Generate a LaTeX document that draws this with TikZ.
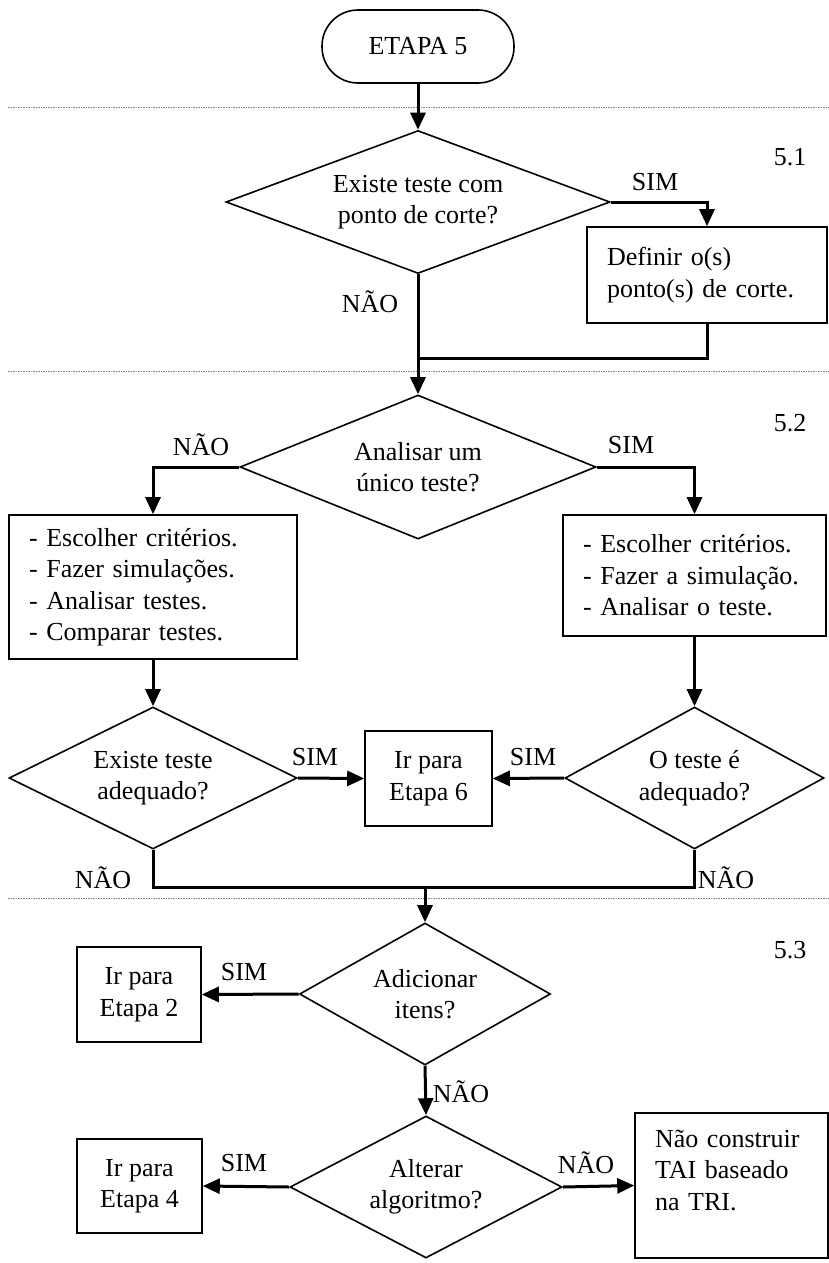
\documentclass[tikz,border=0pt]{standalone}
\usepackage{fontspec}
\setmainfont{Liberation Serif}
\usetikzlibrary{arrows.meta,shapes.geometric}

\begin{document}
\begin{tikzpicture}[x=1pt,y=-1pt,
  font=\fontsize{26}{31.5}\selectfont,
  terminal/.style={rectangle, rounded corners=36pt, draw, line width=1.6pt,
    minimum width=192pt, minimum height=73pt, inner sep=0pt},
  decision/.style={diamond, aspect=2.2, draw, line width=1.6pt, inner sep=0pt, align=center},
  process/.style={rectangle, draw, line width=1.6pt, inner ysep=0pt, inner xsep=20pt, align=left},
  goto/.style={rectangle, draw, line width=1.6pt, inner sep=0pt, align=center},
  flow/.style={line width=3pt, -{Triangle[length=17pt,width=15pt]}},
  joinline/.style={line width=3pt},
  divider/.style={gray, line width=0.8pt, dash pattern=on 2pt off 1.2pt on 0.6pt off 1.2pt},
  tag/.style={inner sep=0pt}
]
\useasboundingbox (0,0) rectangle (829,1263);

% stage dividers
\coordinate (l1a) at (8,107);  \coordinate (l1b) at (829,107);
\coordinate (l2a) at (8,371);  \coordinate (l2b) at (829,371);
\coordinate (l3a) at (8,898);  \coordinate (l3b) at (829,898);
\draw[divider] (l1a) -- (l1b);
\draw[divider] (l2a) -- (l2b);
\draw[divider] (l3a) -- (l3b);

% section numbers
\node[tag] (s51) at (790,157) {5.1};
\node[tag] (s52) at (790,423) {5.2};
\node[tag] (s53) at (790,950) {5.3};

% ---- 5.1
\node[terminal] (start) at (418,46.5) {ETAPA 5};
\node[decision, minimum width=384pt, minimum height=143pt] (d1) at (418,202)
  {Existe teste com\\ponto de corte?};
\node[process, minimum width=240pt, minimum height=96pt, text width=200pt] (cut) at (707,275)
  {Definir o(s)\\ponto(s) de corte.};
\coordinate (m1) at (418,358);

\draw[flow] (start) -- (d1);
\draw[flow] (d1.east) -| (cut.north);
\draw[joinline] (cut.south) |- (m1);
\node[tag] (sim1) at (655,182) {SIM};
\node[tag] (nao1) at (370,302) {NÃO};

% ---- 5.2
\node[decision, minimum width=356pt, minimum height=144pt] (d2) at (418,467)
  {Analisar um\\único teste?};
\draw[flow] (d1.south) -- (d2.north);

\node[process, minimum width=288pt, minimum height=144pt, text width=248pt] (many) at (153,587)
  {- Escolher critérios.\\- Fazer simulações.\\- Analisar testes.\\- Comparar testes.};
\node[process, minimum width=263pt, minimum height=121pt, text width=223pt] (one) at (694.5,575.5)
  {- Escolher critérios.\\- Fazer a simulação.\\- Analisar o teste.};
\draw[flow] (d2.west) -| (many.north);
\draw[flow] (d2.east) -| (one.north);
\node[tag] (nao2) at (201,445) {NÃO};
\node[tag] (sim2) at (631,445) {SIM};

\node[decision, minimum width=288pt, minimum height=142pt] (d3) at (153,778)
  {Existe teste\\adequado?};
\node[decision, minimum width=259pt, minimum height=142pt] (d4) at (694.5,778)
  {O teste é\\adequado?};
\node[goto, minimum width=127pt, minimum height=95pt] (e6) at (428.5,778.5)
  {Ir para\\Etapa 6};
\draw[flow] (many.south) -- (d3.north);
\draw[flow] (one.south) -- (d4.north);
\draw[flow] (d3.east) -- (e6.west);
\draw[flow] (d4.west) -- (e6.east);
\node[tag] (sim3) at (315,757) {SIM};
\node[tag] (sim4) at (533,757) {SIM};
\node[tag] (nao3) at (103,878) {NÃO};
\node[tag] (nao4) at (726,878) {NÃO};

\coordinate (m2) at (425,887);
\draw[joinline] (d3.south) |- (m2) -| (d4.south);

% ---- 5.3
\node[decision, minimum width=251pt, minimum height=142pt] (d5) at (425,994)
  {Adicionar\\itens?};
\draw[flow] (m2) -- (d5.north);
\node[goto, minimum width=124pt, minimum height=95pt] (e2) at (139,994.5)
  {Ir para\\Etapa 2};
\draw[flow] (d5.west) -- (e2.east);
\node[tag] (sim5) at (244,972) {SIM};

\node[decision, minimum width=272pt, minimum height=142pt] (d6) at (426,1187)
  {Alterar\\algoritmo?};
\draw[flow] (d5.south) -- (d6.north);
\node[tag] (nao5) at (461,1092) {NÃO};

\node[goto, minimum width=125pt, minimum height=94pt] (e4) at (139.5,1186)
  {Ir para\\Etapa 4};
\draw[flow] (d6.west) -- (e4.east);
\node[tag] (sim6) at (244,1163) {SIM};

\node[process, minimum width=193pt, minimum height=145pt, text width=153pt] (stop) at (731.5,1185.5)
  {Não construir\\TAI baseado\\na TRI.\\\mbox{}};
\draw[flow] (d6.east) -- (stop.west);
\node[tag] (nao6) at (586,1163) {NÃO};
\end{tikzpicture}
\end{document}
